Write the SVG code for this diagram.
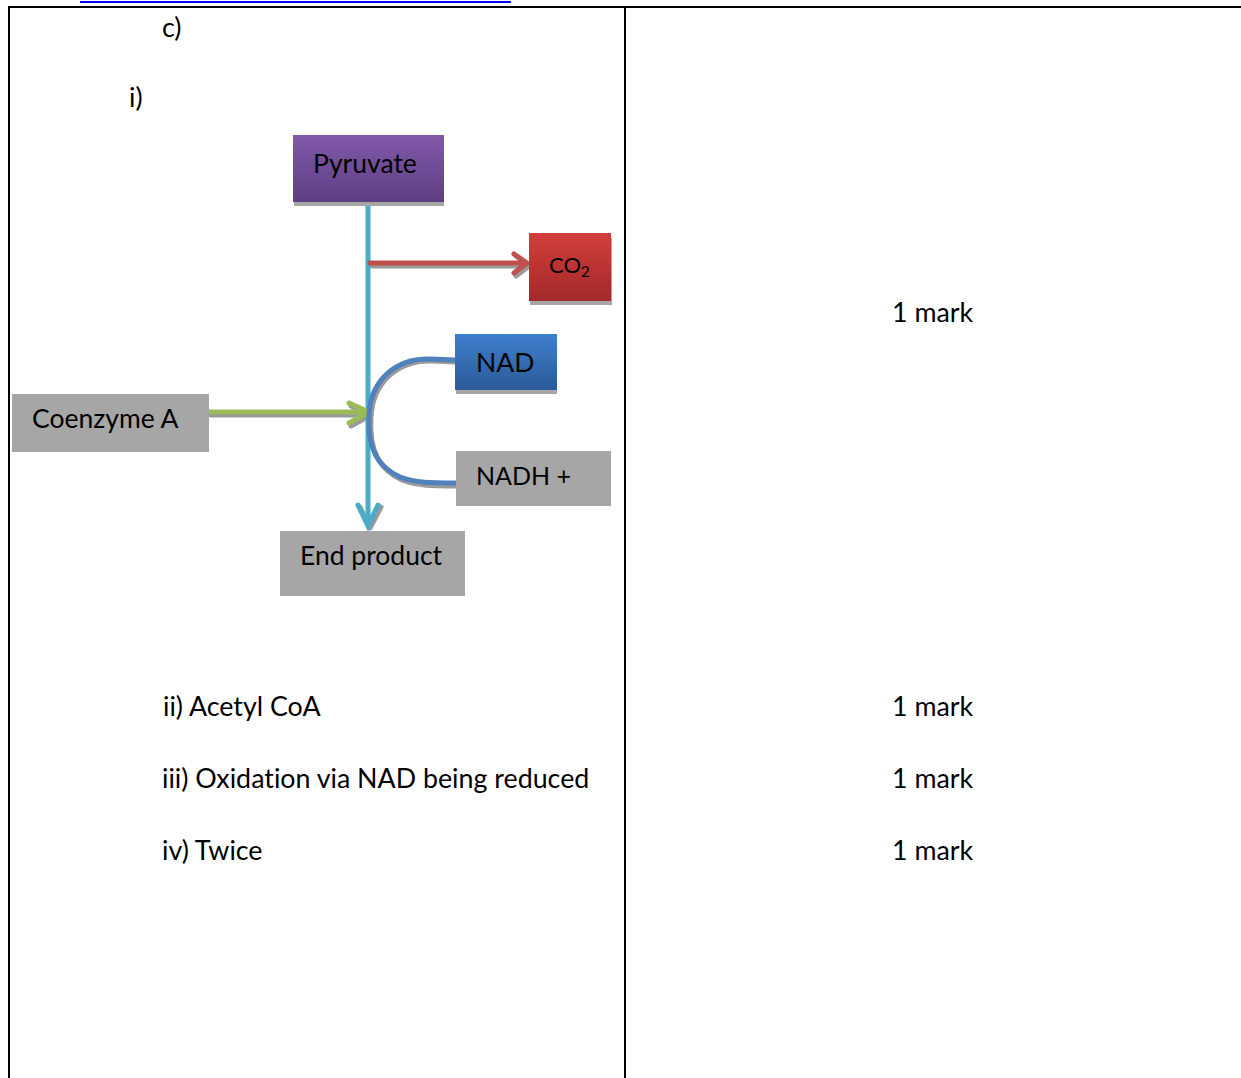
<svg xmlns="http://www.w3.org/2000/svg" width="1241" height="1078" viewBox="0 0 1241 1078">
<defs>
<linearGradient id="gPurple" x1="0" y1="0" x2="0" y2="1"><stop offset="0" stop-color="#8059aa"/><stop offset="1" stop-color="#5e3f82"/></linearGradient>
<linearGradient id="gRed" x1="0" y1="0" x2="0" y2="1"><stop offset="0" stop-color="#d33f3a"/><stop offset="1" stop-color="#a3292a"/></linearGradient>
<linearGradient id="gBlue" x1="0" y1="0" x2="0" y2="1"><stop offset="0" stop-color="#3e7fce"/><stop offset="1" stop-color="#2b5a98"/></linearGradient>
</defs>
<style>
text{font-family:Lato,"Liberation Sans",sans-serif;fill:#000;font-variant-ligatures:none}
.t{font-size:26.8px}
.n{font-size:26.5px}
.line{stroke:#000;stroke-width:2;fill:none}
.shadow{fill:#a6a6a6}
.gray{fill:#a6a6a6}
.sh{fill:none;stroke:#9a9a9a;stroke-width:5;stroke-linejoin:round;stroke-linecap:round}
</style>
<g id="table">
<line class="line" x1="8" y1="7" x2="1241" y2="7"/>
<line class="line" x1="9" y1="6" x2="9" y2="1078"/>
<line class="line" x1="625" y1="6" x2="625" y2="1078"/>
<line x1="80" y1="2" x2="511" y2="2" stroke="#0000ff" stroke-width="2"/>
</g>
<g id="labels">
<text class="t" x="162" y="37">c)</text>
<text class="t" x="129" y="107">i)</text>
<text class="t" x="163" y="716">ii) Acetyl CoA</text>
<text class="t" x="162" y="788">iii) Oxidation via NAD being reduced</text>
<text class="t" x="162" y="860">iv) Twice</text>
<text class="t" x="892" y="322">1 mark</text>
<text class="t" x="892" y="716">1 mark</text>
<text class="t" x="892" y="788">1 mark</text>
<text class="t" x="892" y="860">1 mark</text>
</g>
<g id="connectors">
<path class="sh" d="M372,266 H528 M516,256 L529,266 L516,276"/>
<path class="sh" d="M211,415 H370 M351,406 L371,415 L351,426"/>
<path class="sh" d="M457,362 L432,361 C398,360 373,382 371,417 C369,452 380,470 402,480 C418,486 432,486 457,486"/>
<path class="sh" d="M360,507 L370,528 L381,507"/>
<line x1="368" y1="202" x2="368" y2="524" stroke="#4bacc6" stroke-width="5"/>
<path d="M358,505 L368,526 L378,505" fill="none" stroke="#4bacc6" stroke-width="5" stroke-linejoin="miter" stroke-linecap="round"/>
<path d="M370,263 H526 M514,254 L527,263 L514,273" fill="none" stroke="#c0504d" stroke-width="5" stroke-linecap="round" stroke-linejoin="round"/>
<path d="M209,412 H368 M349,403 L369,412 L349,423" fill="none" stroke="#9bbb59" stroke-width="5" stroke-linecap="round" stroke-linejoin="round"/>
<path d="M455,360 L430,359 C396,358 371,380 369,414 C367,449 378,467 400,477 C416,483 430,483 455,483" fill="none" stroke="#4f81bd" stroke-width="5" stroke-linecap="round"/>
</g>
<g id="pyruvate">
<rect class="shadow" x="294" y="140" width="150" height="66"/>
<rect x="293" y="135" width="151" height="67" fill="url(#gPurple)"/>
<text class="n" x="313" y="173">Pyruvate</text>
</g>
<g id="co2">
<rect class="shadow" x="530" y="238" width="82" height="67"/>
<rect x="529" y="233" width="82" height="68" fill="url(#gRed)"/>
<text x="549" y="273" font-size="22">CO<tspan font-size="15" dy="4">2</tspan></text>
</g>
<g id="nad">
<rect class="shadow" x="456" y="339" width="101" height="55"/>
<rect x="455" y="334" width="102" height="56" fill="url(#gBlue)"/>
<text class="n" x="476" y="372" font-size="25.5">NAD</text>
</g>
<g id="coenzyme">
<rect class="gray" x="12" y="394" width="197" height="58"/>
<text class="n" x="32" y="428">Coenzyme A</text>
</g>
<g id="nadh">
<rect class="gray" x="456" y="451" width="155" height="55"/>
<text x="476" y="485" font-size="25">NADH +</text>
</g>
<g id="endproduct">
<rect class="gray" x="280" y="531" width="185" height="65"/>
<text class="n" x="300" y="565">End product</text>
</g>
</svg>
